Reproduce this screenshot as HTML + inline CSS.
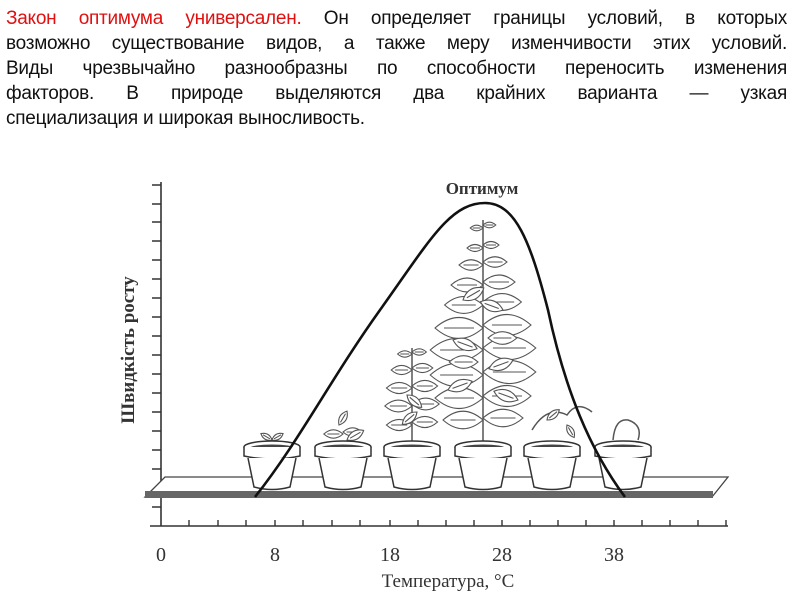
<!DOCTYPE html>
<html><head><meta charset="utf-8"><style>
body{margin:0;width:800px;height:600px;background:#fff;overflow:hidden;position:relative}
.t{position:absolute;left:6px;top:6px;width:781px;font-family:"Liberation Sans",Arial,sans-serif;font-size:19px;line-height:25px;color:#111;letter-spacing:-0.25px}
.t div{text-align:justify;text-align-last:justify;white-space:nowrap}
.t div.l{text-align-last:left}
.t span{color:#e01010}
svg{position:absolute;left:0;top:0}
</style></head><body>
<div class="t">
<div><span>Закон оптимума универсален.</span> Он определяет границы условий, в которых</div>
<div>возможно существование видов, а также меру изменчивости этих условий.</div>
<div>Виды чрезвычайно разнообразны по способности переносить изменения</div>
<div>факторов. В природе выделяются два крайних варианта — узкая</div>
<div class="l">специализация и широкая выносливость.</div>
</div>
<svg width="800" height="600" viewBox="0 0 800 600">
<defs>
<g id="pot"><ellipse cx="0" cy="0" rx="28" ry="6" fill="#fff" stroke="#333" stroke-width="1.5"/><ellipse cx="0" cy="1" rx="22" ry="3.5" fill="#444"/><path d="M-28 0 L-28 9 Q0 15 28 9 L28 0" fill="#fff" stroke="#333" stroke-width="1.5"/><path d="M-24 11 L-18 40 Q0 45 18 40 L24 11" fill="#fff" stroke="#333" stroke-width="1.5"/></g>
<g id="lf"><path d="M0 0 Q8 -7 16 0 Q8 7 0 0Z M3 0 L13 0" fill="#fff" stroke="#555" stroke-width="1.1" vector-effect="non-scaling-stroke"/></g>
</defs>
<g stroke="#333" stroke-width="1.6" fill="none">
<line x1="161" y1="182" x2="161" y2="526"/>
<line x1="150" y1="526" x2="728" y2="526"/>
</g>
<g stroke="#333" stroke-width="1.4">
<path d="M152 185h9M152 204h9M152 222h9M152 241h9M152 260h9M152 279h9M152 298h9M152 317h9M152 336h9M152 355h9M152 374h9M152 393h9M152 412h9M152 431h9M152 450h9M152 469h9M152 507h9"/>
<path d="M189 526v-6M218 526v-6M246 526v-6M275 526v-6M303 526v-6M332 526v-6M360 526v-6M390 526v-6M418 526v-6M446 526v-6M474 526v-6M502 526v-6M530 526v-6M558 526v-6M586 526v-6M614 526v-6M642 526v-6M670 526v-6M698 526v-6M726 526v-6"/>
</g>
<path d="M165 477 L728 477 L712 497 L145 497 Z" fill="#fff" stroke="#444" stroke-width="1.3"/>
<rect x="145" y="491" width="568" height="7" fill="#666"/>
<g>
<g transform="translate(483,0)">
<line x1="0" y1="445" x2="0" y2="220" stroke="#555" stroke-width="1.5"/>
<use href="#lf" transform="translate(0,225) scale(0.8)"/><use href="#lf" transform="translate(0,228) scale(-0.8,0.8)"/>
<use href="#lf" transform="translate(0,245)"/><use href="#lf" transform="translate(0,248) scale(-1,1)"/>
<use href="#lf" transform="translate(0,262) scale(1.5)"/><use href="#lf" transform="translate(0,265) scale(-1.5,1.5)"/>
<use href="#lf" transform="translate(0,282) scale(2)"/><use href="#lf" transform="translate(0,285) scale(-2,2)"/>
<use href="#lf" transform="translate(0,302) scale(2.4)"/><use href="#lf" transform="translate(0,305) scale(-2.4,2.4)"/>
<use href="#lf" transform="translate(0,325) scale(3)"/><use href="#lf" transform="translate(0,328) scale(-3,3)"/>
<use href="#lf" transform="translate(0,348) scale(3.3)"/><use href="#lf" transform="translate(0,350) scale(-3.3,3.3)"/>
<use href="#lf" transform="translate(0,372) scale(3.3)"/><use href="#lf" transform="translate(0,375) scale(-3.3,3.3)"/>
<use href="#lf" transform="translate(0,396) scale(3)"/><use href="#lf" transform="translate(0,398) scale(-3,3)"/>
<use href="#lf" transform="translate(0,418) scale(2.5)"/><use href="#lf" transform="translate(0,420) scale(-2.5,2.5)"/>
<use href="#lf" transform="translate(-20,300) rotate(-30) scale(1.5)"/><use href="#lf" transform="translate(20,310) rotate(200) scale(1.5)"/>
<use href="#lf" transform="translate(-30,340) rotate(20) scale(1.6)"/><use href="#lf" transform="translate(30,360) rotate(160) scale(1.6)"/>
<use href="#lf" transform="translate(-35,390) rotate(-20) scale(1.6)"/><use href="#lf" transform="translate(35,400) rotate(200) scale(1.6)"/>
<use href="#lf" transform="translate(5,338) scale(1.8)"/><use href="#lf" transform="translate(-5,362) scale(-1.8,1.8)"/>
</g>
<g transform="translate(412,0)">
<line x1="0" y1="445" x2="0" y2="348" stroke="#555" stroke-width="1.5"/>
<use href="#lf" transform="translate(0,352) scale(0.9)"/><use href="#lf" transform="translate(0,354) scale(-0.9,0.9)"/>
<use href="#lf" transform="translate(0,368) scale(1.3)"/><use href="#lf" transform="translate(0,370) scale(-1.3,1.3)"/>
<use href="#lf" transform="translate(0,386) scale(1.6)"/><use href="#lf" transform="translate(0,388) scale(-1.6,1.6)"/>
<use href="#lf" transform="translate(0,404) scale(1.7)"/><use href="#lf" transform="translate(0,406) scale(-1.7,1.7)"/>
<use href="#lf" transform="translate(0,422) scale(1.6)"/><use href="#lf" transform="translate(0,425) scale(-1.6,1.6)"/>
<use href="#lf" transform="translate(-5,395) rotate(40) scale(1.2)"/><use href="#lf" transform="translate(5,412) rotate(140) scale(1.2)"/>
</g>
<g transform="translate(343,0)"><use href="#lf" transform="translate(0,432) scale(1.2)"/><use href="#lf" transform="translate(0,434) scale(-1.2,1.2)"/><use href="#lf" transform="translate(-4,425) rotate(-60)"/><use href="#lf" transform="translate(4,440) rotate(-30) scale(1.2)"/></g>
<g transform="translate(272,0)"><use href="#lf" transform="translate(0,440) rotate(-30) scale(0.8)"/><use href="#lf" transform="translate(0,440) rotate(210) scale(0.8)"/></g>
<g transform="translate(552,0)"><path d="M-20 430 Q-5 405 15 415 Q25 400 40 412" fill="none" stroke="#555" stroke-width="1.5"/><use href="#lf" transform="translate(-5,420) rotate(-40)"/><use href="#lf" transform="translate(15,425) rotate(60) scale(0.9)"/></g>
<g transform="translate(623,0)"><path d="M-10 440 Q-8 418 5 420 Q20 425 15 440" fill="none" stroke="#555" stroke-width="1.5"/></g>
<use href="#pot" x="272" y="447"/><use href="#pot" x="343" y="447"/><use href="#pot" x="412" y="447"/>
<use href="#pot" x="483" y="447"/><use href="#pot" x="552" y="447"/><use href="#pot" x="623" y="447"/>
</g>
<path d="M255 497 C300 440, 330 380, 380 310 C430 240, 450 203, 485 203 C515 203, 530 240, 548 310 C565 390, 590 450, 625 497" fill="none" stroke="#111" stroke-width="2.6"/>
<g font-family="Liberation Serif,serif" fill="#333" font-size="20">
<text x="482" y="194" text-anchor="middle" font-size="17" font-weight="bold">Оптимум</text>
<text x="161" y="561" text-anchor="middle">0</text>
<text x="275" y="561" text-anchor="middle">8</text>
<text x="390" y="561" text-anchor="middle">18</text>
<text x="502" y="561" text-anchor="middle">28</text>
<text x="614" y="561" text-anchor="middle">38</text>
<text x="448" y="587" text-anchor="middle" font-size="19">Температура, °С</text>
<text transform="translate(134,350) rotate(-90)" text-anchor="middle" font-weight="bold" font-size="19">Швидкість росту</text>
</g>
</svg>
</body></html>
